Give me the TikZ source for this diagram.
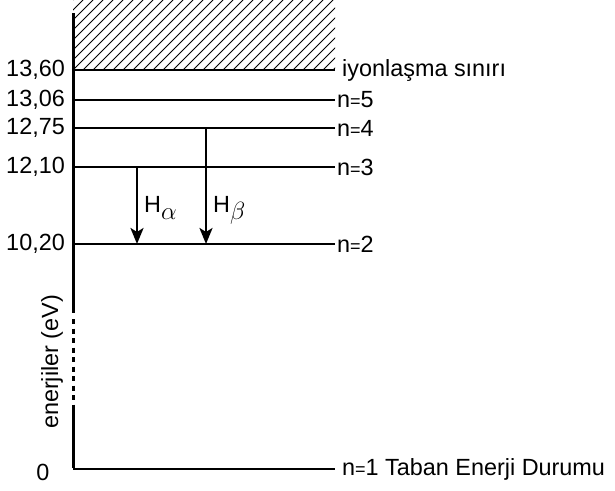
\documentclass[tikz,border=0pt]{standalone}
\usepackage{fontspec}
\setmainfont{Liberation Sans}
\usetikzlibrary{arrows.meta,calc}
\newcommand{\smeq}{{\fontsize{18}{18}\selectfont =}}
\begin{document}
\begin{tikzpicture}[x=1pt,y=-1pt,
  lbl/.style={font=\fontsize{23.4}{28}\selectfont, inner sep=1pt},
  level/.style={line width=2.1pt},
  axisline/.style={line width=3pt},
  trans/.style={line width=2.6pt,-{Stealth[length=16pt,width=13pt,inset=4pt]}},
  hatchline/.style={line width=0.8pt}]
\useasboundingbox (0,0) rectangle (615,490);
% hatch
\begin{scope}
\clip (73,0) rectangle (335,70);
\foreach \i in {0,...,34} {
  \draw[hatchline] (73+\i*10-70,70) -- (73+\i*10,0);
}
\end{scope}
% coordinates
\coordinate (ax0) at (73,469);
\coordinate (axtop) at (73,13);
\coordinate (d1) at (73,313);
\coordinate (d1b) at (73,319);
\coordinate (d2) at (73,408);
\foreach \n/\y in {ion/70,l5/100,l4/128,l3/167,l2/244,l1/469} {
  \coordinate (\n L) at (73,\y);
  \coordinate (\n R) at (335,\y);
}
% axis
\draw[axisline] (axtop) -- (d1);
\draw[axisline,dash pattern=on 5pt off 4.5pt] (d1b) -- (d2);
\draw[axisline] (d2) -- ([yshift=1.5pt]ax0);
% levels
\foreach \n in {ion,l5,l4,l3,l2,l1} {
  \draw[level] (\n L) -- (\n R);
}
% right labels
\node[lbl,anchor=west] (tion) at ([xshift=6pt]ionR) {iyonlaşma sınırı};
\node[lbl,anchor=west] (t5) at ([xshift=1pt]l5R) {n\smeq5};
\node[lbl,anchor=west] (t4) at ([xshift=1pt]l4R) {n\smeq4};
\node[lbl,anchor=west] (t3) at ([xshift=1pt]l3R) {n\smeq3};
\node[lbl,anchor=west] (t2) at ([xshift=1pt]l2R) {n\smeq2};
\node[lbl,anchor=west] (t1) at ([xshift=6pt]l1R) {n\smeq1 Taban Enerji Durumu};
% left labels
\node[lbl,anchor=east] (v1) at (66,70) {13,60};
\node[lbl,anchor=east] (v2) at (66,100) {13,06};
\node[lbl,anchor=east] (v3) at (66,128) {12,75};
\node[lbl,anchor=east] (v4) at (66,167) {12,10};
\node[lbl,anchor=east] (v5) at (66,244) {10,20};
\node[lbl] (v0) at (43,472) {0};
\node[lbl,rotate=90] (ylab) at (52,362) {enerjiler (eV)};
% transitions
\coordinate (a1) at (137,167);
\coordinate (a2) at (137,244);
\coordinate (b1) at (206,128);
\coordinate (b2) at (206,244);
\draw[trans] (a1) -- (a2);
\draw[trans] (b1) -- (b2);
\node[lbl,anchor=base west] (ha) at (143,212) {H\raisebox{-7pt}{$\alpha$}};
\node[lbl,anchor=base west] (hb) at (212,212) {H\raisebox{-7pt}{$\beta$}};
\end{tikzpicture}
\end{document}
